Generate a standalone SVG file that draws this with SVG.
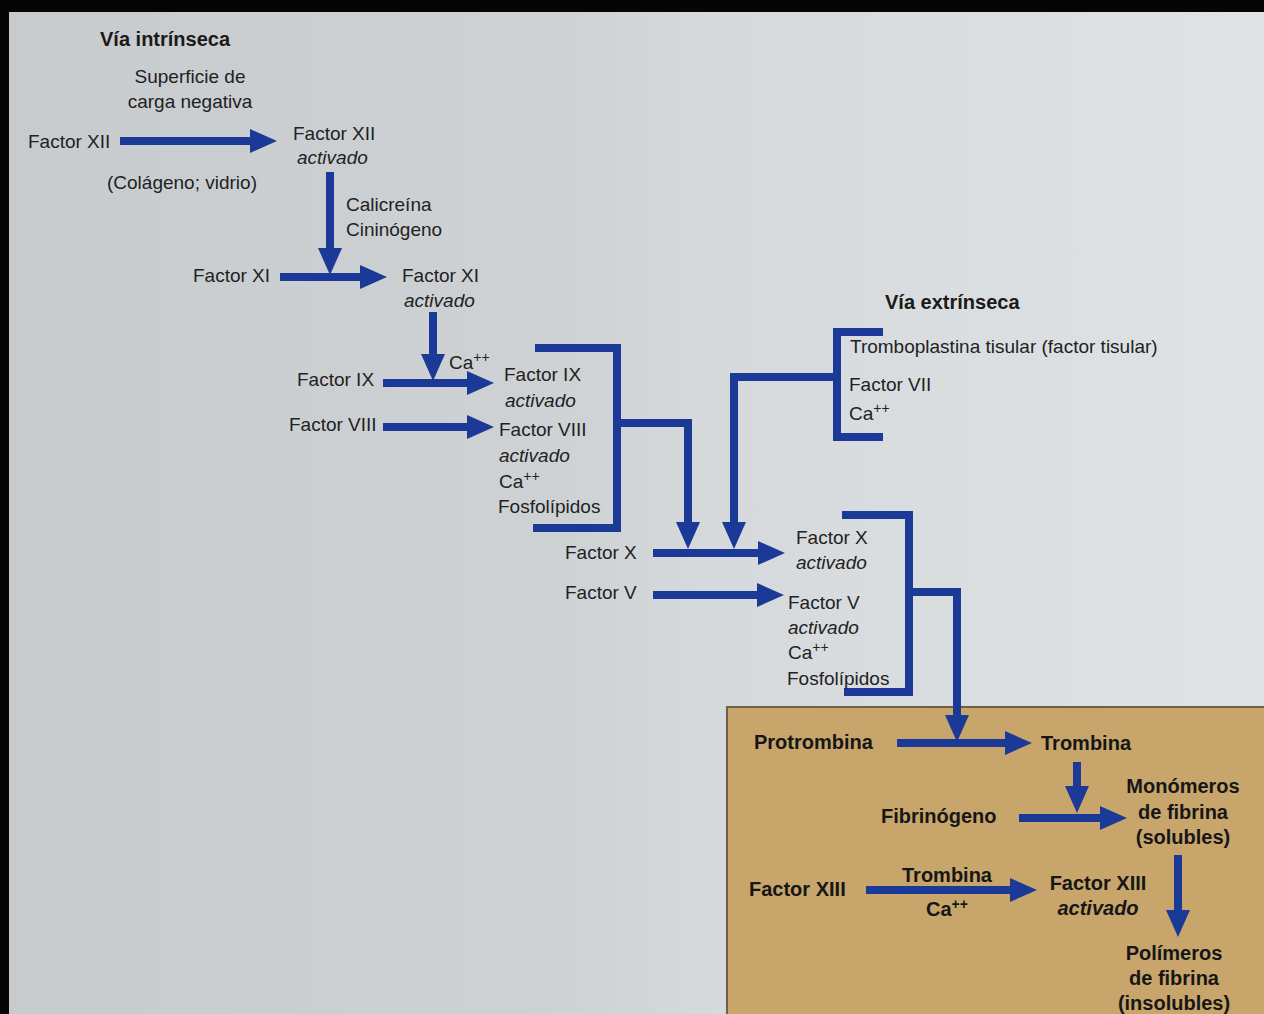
<svg xmlns="http://www.w3.org/2000/svg" width="1264" height="1014" viewBox="0 0 1264 1014">
<defs>
<linearGradient id="page" x1="0" y1="0" x2="1" y2="0">
<stop offset="0" stop-color="#c8cbce"/>
<stop offset="0.45" stop-color="#cfd2d5"/>
<stop offset="0.55" stop-color="#d6d9dc"/>
<stop offset="1" stop-color="#e0e3e6"/>
</linearGradient>
<marker id="ah" markerUnits="userSpaceOnUse" markerWidth="28" markerHeight="24" refX="4" refY="12" orient="auto">
<path d="M0,0 L27,12 L0,24 Z" fill="#1b3a98"/>
</marker>
<style>
.t{font-family:"Liberation Sans",Arial,sans-serif;font-size:19px;fill:#222}
.i{font-style:italic}
.h{font-weight:bold;font-size:20px;fill:#1a1a1a}
.b{font-family:"Liberation Sans",Arial,sans-serif;font-weight:bold;font-size:20px;fill:#161616}
.s{font-size:14px}
.a{fill:none;stroke:#1b3a98;stroke-width:8;marker-end:url(#ah)}
.br{fill:none;stroke:#1b3a98;stroke-width:8;stroke-linejoin:miter}
</style>
</defs>
<rect x="0" y="0" width="1264" height="1014" fill="url(#page)"/>
<rect x="727" y="707" width="540" height="310" fill="#c8a56b" stroke="#6e5f47" stroke-width="2"/>
<rect x="0" y="0" width="1264" height="12" fill="#050505"/>
<rect x="0" y="0" width="9" height="1014" fill="#050505"/>

<g id="connectors">
<path class="a" d="M120,141 H254"/>
<path class="a" d="M330,172 V252"/>
<path class="a" d="M280,277 H364"/>
<path class="a" d="M433,312 V358"/>
<path class="a" d="M383,383 H471"/>
<path class="a" d="M383,427 H471"/>
<polyline class="br" points="535,348 617,348 617,528 533,528"/>
<path class="a" d="M613,423 H688 V526"/>
<polyline class="br" points="883,332 837,332 837,437 883,437"/>
<path class="a" d="M841,377 H734 V526"/>
<path class="a" d="M653,553 H762"/>
<path class="a" d="M653,595 H761"/>
<polyline class="br" points="842,515 909,515 909,692 844,692"/>
<path class="a" d="M905,592 H957 V719"/>
<path class="a" d="M897,743 H1009"/>
<path class="a" d="M1077,762 V790"/>
<path class="a" d="M1019,818 H1104"/>
<path class="a" d="M866,890 H1014"/>
<path class="a" d="M1178,855 V914"/>
</g>

<g id="via-intrinseca"><text class="t h" x="100" y="46">Vía intrínseca</text></g>
<g id="superficie">
<text class="t" x="190" y="83" text-anchor="middle">Superficie de</text>
<text class="t" x="190" y="108" text-anchor="middle">carga negativa</text>
</g>
<g id="factor-xii"><text class="t" x="28" y="148">Factor XII</text></g>
<g id="factor-xii-act">
<text class="t" x="293" y="140">Factor XII</text>
<text class="t i" x="297" y="164">activado</text>
</g>
<g id="colageno"><text class="t" x="107" y="189">(Colágeno; vidrio)</text></g>
<g id="calicreina">
<text class="t" x="346" y="211">Calicreína</text>
<text class="t" x="346" y="236">Cininógeno</text>
</g>
<g id="factor-xi"><text class="t" x="193" y="282">Factor XI</text></g>
<g id="factor-xi-act">
<text class="t" x="402" y="282">Factor XI</text>
<text class="t i" x="404" y="307">activado</text>
</g>
<g id="ca1"><text class="t" x="449" y="369">Ca<tspan class="s" dy="-7">++</tspan></text></g>
<g id="factor-ix"><text class="t" x="297" y="386">Factor IX</text></g>
<g id="factor-viii"><text class="t" x="289" y="431">Factor VIII</text></g>
<g id="factor-ix-act">
<text class="t" x="504" y="381">Factor IX</text>
<text class="t i" x="505" y="407">activado</text>
<text class="t" x="499" y="436">Factor VIII</text>
<text class="t i" x="499" y="462">activado</text>
<text class="t" x="499" y="488">Ca<tspan class="s" dy="-7">++</tspan></text>
<text class="t" x="498" y="513">Fosfolípidos</text>
</g>
<g id="via-extrinseca"><text class="t h" x="885" y="309">Vía extrínseca</text></g>
<g id="extrinseca-factors">
<text class="t" x="850" y="353">Tromboplastina tisular (factor tisular)</text>
<text class="t" x="849" y="391">Factor VII</text>
<text class="t" x="849" y="420">Ca<tspan class="s" dy="-7">++</tspan></text>
</g>
<g id="factor-x"><text class="t" x="565" y="559">Factor X</text></g>
<g id="factor-v"><text class="t" x="565" y="599">Factor V</text></g>
<g id="factor-x-act">
<text class="t" x="796" y="544">Factor X</text>
<text class="t i" x="796" y="569">activado</text>
<text class="t" x="788" y="609">Factor V</text>
<text class="t i" x="788" y="634">activado</text>
<text class="t" x="788" y="659">Ca<tspan class="s" dy="-7">++</tspan></text>
<text class="t" x="787" y="685">Fosfolípidos</text>
</g>
<g id="protrombina"><text class="b" x="754" y="749">Protrombina</text></g>
<g id="trombina"><text class="b" x="1041" y="750">Trombina</text></g>
<g id="fibrinogeno"><text class="b" x="881" y="823">Fibrinógeno</text></g>
<g id="monomeros">
<text class="b" x="1183" y="793" text-anchor="middle">Monómeros</text>
<text class="b" x="1183" y="819" text-anchor="middle">de fibrina</text>
<text class="b" x="1183" y="844" text-anchor="middle">(solubles)</text>
</g>
<g id="factor-xiii"><text class="b" x="749" y="896">Factor XIII</text></g>
<g id="trombina-ca">
<text class="b" x="947" y="882" text-anchor="middle">Trombina</text>
<text class="b" x="947" y="916" text-anchor="middle">Ca<tspan class="s" dy="-7">++</tspan></text>
</g>
<g id="factor-xiii-act">
<text class="b" x="1098" y="890" text-anchor="middle">Factor XIII</text>
<text class="b i" x="1098" y="915" text-anchor="middle">activado</text>
</g>
<g id="polimeros">
<text class="b" x="1174" y="960" text-anchor="middle">Polímeros</text>
<text class="b" x="1174" y="985" text-anchor="middle">de fibrina</text>
<text class="b" x="1174" y="1010" text-anchor="middle">(insolubles)</text>
</g>
</svg>
